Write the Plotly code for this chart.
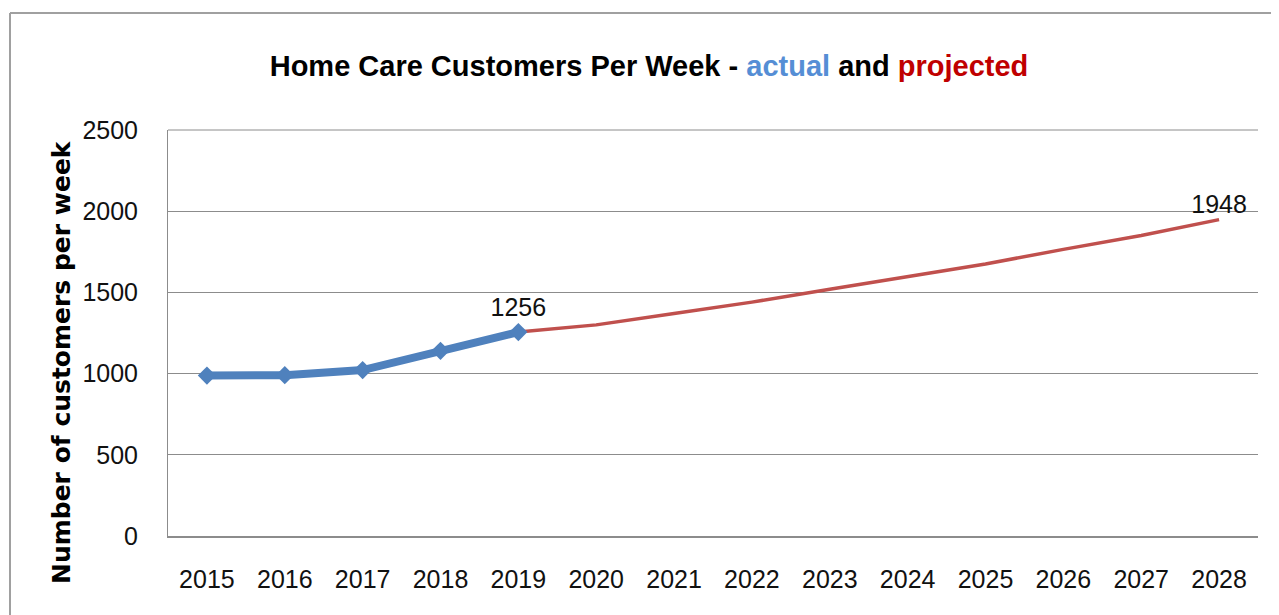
"""
Home care customers per week - actual and projected
"""
import plotly.graph_objs as go

years = [str(y) for y in range(2015, 2029)]
actual_years = years[:5]
actual_values = [988, 990, 1022, 1140, 1256]
projected_years = years[4:]
projected_values = [1256, 1300, 1370, 1440, 1520, 1598, 1675, 1765, 1850, 1948]
y_ticks = [0, 500, 1000, 1500, 2000, 2500]

BLUE = '#4F81BD'
RED = '#C0504D'
GRID = '#8C8C8C'
FONT = 'Liberation Sans, Arial, sans-serif'

# page is drawn with an 8px body margin, so work in figure coordinates
W, H = 1271, 607
L, T, R, B = 160, 122, 21, 79
PW, PH = W - L - R, H - T - B


def px(x):
    return (x - L) / PW


def py(y):
    return (H - B - y) / PH


fig = go.Figure()

# Projected series (drawn first so the actual line sits on top)
fig.add_trace(go.Scatter(
    x=projected_years,
    y=projected_values,
    mode='lines+text',
    text=[None] * (len(projected_values) - 1) + [str(projected_values[-1])],
    textposition='top center',
    textfont={'family': FONT, 'size': 25, 'color': '#111111'},
    line={'color': RED, 'width': 3.5},
    name='projected',
))

# Actual series
fig.add_trace(go.Scatter(
    x=actual_years,
    y=actual_values,
    mode='lines+markers+text',
    text=[None] * (len(actual_values) - 1) + [str(actual_values[-1])],
    textposition='top center',
    textfont={'family': FONT, 'size': 25, 'color': '#111111'},
    line={'color': BLUE, 'width': 8},
    marker={'symbol': 'diamond', 'size': 14, 'color': BLUE},
    name='actual',
))

fig.update_layout(
    width=W,
    height=H,
    margin={'l': L, 'r': R, 't': T, 'b': B},
    paper_bgcolor='white',
    plot_bgcolor='white',
    showlegend=False,
    title={
        'text': ('<b>Home Care Customers Per Week - '
                 '<span style="color:#558ED5">actual</span> and '
                 '<span style="color:#C00000">projected</span></b>'),
        'x': 641 / W,
        'xanchor': 'center',
        'y': 1 - 58 / H,
        'yanchor': 'middle',
        'font': {'family': FONT, 'size': 29, 'color': 'black'},
    },
    xaxis={
        'type': 'category',
        'categoryorder': 'array',
        'categoryarray': years,
        'range': [-0.5, len(years) - 0.5],
        'showgrid': False,
        'showline': True,
        'linecolor': GRID,
        'linewidth': 2,
        'ticks': '',
        'ticklabelstandoff': 20,
        'tickfont': {'family': FONT, 'size': 25, 'color': '#111111'},
    },
    yaxis={
        'range': [0, 2500],
        'tickvals': y_ticks,
        'showgrid': True,
        'gridcolor': GRID,
        'gridwidth': 1,
        'showline': True,
        'linecolor': GRID,
        'linewidth': 1,
        'zeroline': False,
        'ticks': '',
        'ticklabelstandoff': 24,
        'tickfont': {'family': FONT, 'size': 25, 'color': '#111111'},
    },
    annotations=[{
        'text': '<b>Number of customers per week</b>',
        'textangle': -90,
        'xref': 'paper',
        'yref': 'paper',
        'x': px(53),
        'y': py(354),
        'xanchor': 'center',
        'yanchor': 'middle',
        'showarrow': False,
        'font': {'family': 'DejaVu Sans', 'size': 25, 'color': 'black'},
    }],
    shapes=[
        # chart outer border (top and left edges)
        {'type': 'line', 'xref': 'paper', 'yref': 'paper',
         'x0': px(2), 'x1': px(W), 'y0': py(5), 'y1': py(5),
         'line': {'color': '#A0A0A0', 'width': 2}},
        {'type': 'line', 'xref': 'paper', 'yref': 'paper',
         'x0': px(2), 'x1': px(2), 'y0': py(5), 'y1': py(H),
         'line': {'color': '#A0A0A0', 'width': 2}},
        # plot area top edge
        {'type': 'line', 'xref': 'paper', 'yref': 'paper',
         'x0': 0, 'x1': 1, 'y0': 1, 'y1': 1,
         'line': {'color': GRID, 'width': 1}},
    ],
)

fig.write_html('out.html')
